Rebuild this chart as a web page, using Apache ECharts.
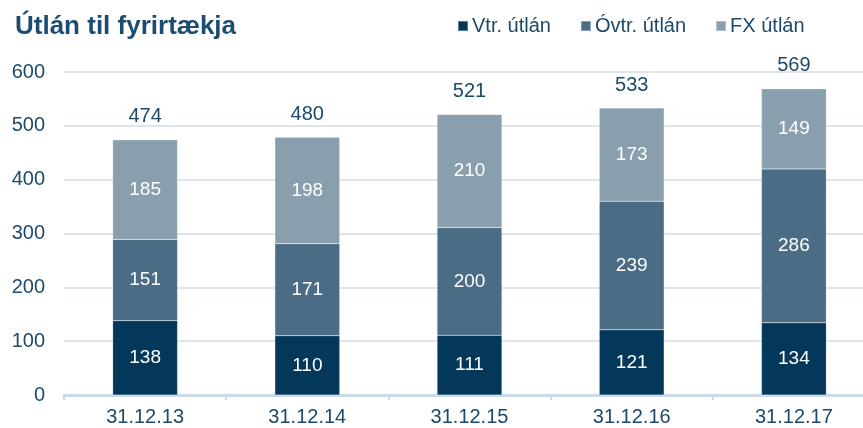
<!DOCTYPE html>
<html>
<head>
<meta charset="utf-8">
<script src="https://cdn.jsdelivr.net/npm/echarts@6/dist/echarts.min.js"></script>
<style>
  html, body { margin: 0; padding: 0; background: #fff; }
  #chart { width: 863px; height: 428px; }
</style>
</head>
<body>
<div id="chart"></div>
<script>
// gögn úr myndinni
const categories = ['31.12.13', '31.12.14', '31.12.15', '31.12.16', '31.12.17'];
const vtrUtlan = [138, 110, 111, 121, 134];
const ovtrUtlan = [151, 171, 200, 239, 286];
const fxUtlan = [185, 198, 210, 173, 149];
const totals = [474, 480, 521, 533, 569];

const textColor = '#1d4a6b';
const font = 'Liberation Sans, Arial, sans-serif';

const chart = echarts.init(document.getElementById('chart'));

const segLabel = {
  show: true,
  position: 'inside',
  color: '#fff',
  fontSize: 19,
  fontFamily: font
};

const option = {
  animation: false,
  backgroundColor: '#fff',
  title: {
    text: 'Útlán til fyrirtækja',
    left: 10,
    top: 9,
    textStyle: { color: '#1b4d70', fontSize: 26, fontWeight: 'bold', fontFamily: font }
  },
  legend: {
    data: ['Vtr. útlán', 'Óvtr. útlán', 'FX útlán'],
    left: 452,
    top: 11,
    icon: 'rect',
    itemWidth: 10,
    itemHeight: 10,
    itemGap: 29,
    textStyle: { color: textColor, fontSize: 20, fontFamily: font, padding: [0, 0, 0, -1] }
  },
  // plottið nær aðeins út fyrir hægri brún eins og í frumritinu
  grid: { left: 64, width: 811, top: 72, bottom: 33, outerBoundsMode: 'none' },
  xAxis: {
    type: 'category',
    data: categories,
    axisLine: { lineStyle: { color: '#c9dbea', width: 3 } },
    axisTick: { show: true, length: 5, lineStyle: { color: '#c9dbea', width: 2 } },
    axisLabel: { color: textColor, fontSize: 20, fontFamily: font, margin: 12 }
  },
  yAxis: {
    type: 'value',
    min: 0,
    max: 600,
    interval: 100,
    axisLine: { show: false },
    axisTick: { show: false },
    axisLabel: { color: textColor, fontSize: 20, fontFamily: font, margin: 19 },
    splitLine: { lineStyle: { color: '#d3dce4', width: 1.5 } }
  },
  series: [
    {
      name: 'Vtr. útlán',
      type: 'bar',
      stack: 'total',
      barWidth: '40%',
      data: vtrUtlan,
      itemStyle: { color: '#03385a', borderColor: 'rgba(255,255,255,0.35)', borderWidth: 0.5 },
      label: segLabel
    },
    {
      name: 'Óvtr. útlán',
      type: 'bar',
      stack: 'total',
      data: ovtrUtlan,
      itemStyle: { color: '#4a6c85', borderColor: 'rgba(255,255,255,0.35)', borderWidth: 0.5 },
      label: segLabel
    },
    {
      name: 'FX útlán',
      type: 'bar',
      stack: 'total',
      data: fxUtlan,
      itemStyle: { color: '#8a9fad', borderColor: 'rgba(255,255,255,0.35)', borderWidth: 0.5 },
      label: segLabel
    },
    {
      // samtals ofan á súlum
      name: 'Samtals',
      type: 'bar',
      stack: 'total',
      data: totals.map(() => 0),
      itemStyle: { color: 'transparent' },
      label: {
        show: true,
        position: 'top',
        distance: 13,
        color: textColor,
        fontSize: 20,
        fontFamily: font,
        formatter: (p) => totals[p.dataIndex]
      }
    }
  ]
};

chart.setOption(option);
</script>
</body>
</html>
